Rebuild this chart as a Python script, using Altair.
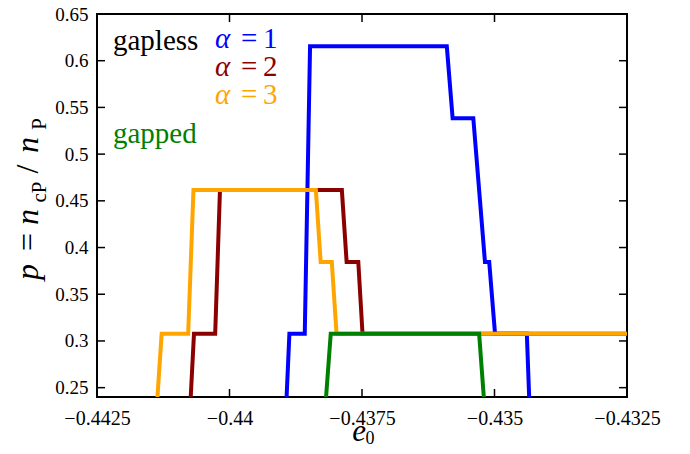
import altair as alt
import pandas as pd

# ---- data ----
e_a1 = [-0.43893, -0.43887, -0.43858, -0.43848, -0.43590, -0.43579, -0.43540,
        -0.43518, -0.43510, -0.43499, -0.43439, -0.43434]
p_a1 = [0.2308, 0.3077, 0.3077, 0.6154, 0.6154, 0.5385, 0.5385,
        0.3846, 0.3846, 0.3077, 0.3077, 0.2308]
e_a2 = [-0.44074, -0.44067, -0.44027, -0.44018, -0.43788, -0.43779, -0.43757,
        -0.43749, -0.4325]
p_a2 = [0.2308, 0.3077, 0.3077, 0.4615, 0.4615, 0.3846, 0.3846, 0.3077, 0.3077]
e_a3 = [-0.44137, -0.44128, -0.44078, -0.44068, -0.43837, -0.43828, -0.43807,
        -0.43798, -0.4325]
p_a3 = [0.2308, 0.3077, 0.3077, 0.4615, 0.4615, 0.3846, 0.3846, 0.3077, 0.3077]
e_gap = [-0.43819, -0.43809, -0.43529, -0.43519]
p_gap = [0.2308, 0.3077, 0.3077, 0.2308]

x_ticks = [-0.4425, -0.44, -0.4375, -0.435, -0.4325]
y_ticks = [0.25, 0.3, 0.35, 0.4, 0.45, 0.5, 0.55, 0.6, 0.65]

colors = {"a1": "#0000ff", "a2": "#8b0000", "a3": "#ffa500", "gap": "#008000"}

W, H = 530, 383
SERIF = "Liberation Serif"

xscale = alt.Scale(domain=[-0.4425, -0.4325], nice=False, zero=False)
yscale = alt.Scale(domain=[0.24, 0.65], nice=False, zero=False)

xaxis = alt.Axis(values=x_ticks, ticks=False, domain=False, grid=False,
                 labelExpr="format(datum.value, '.4~f')",
                 labelFont=SERIF, labelFontSize=20, labelColor="black",
                 labelPadding=11, title=None, labelFlush=False)
yaxis = alt.Axis(values=y_ticks, ticks=False, domain=False, grid=False,
                 labelExpr="format(datum.value, '.2~f')",
                 labelFont=SERIF, labelFontSize=19, labelColor="black",
                 labelPadding=9, title=None, labelFlush=False)


def series(e, p, color):
    df = pd.DataFrame({"e0": e, "p": p})
    return alt.Chart(df).mark_line(
        color=color, strokeWidth=4, clip=True, strokeJoin="miter", strokeCap="butt"
    ).encode(
        x=alt.X("e0:Q", scale=xscale, axis=xaxis),
        y=alt.Y("p:Q", scale=yscale, axis=yaxis),
    )


layers = [
    series(e_a1, p_a1, colors["a1"]),
    series(e_a2, p_a2, colors["a2"]),
    series(e_a3, p_a3, colors["a3"]),
    series(e_gap, p_gap, colors["gap"]),
]

# inward ticks on all four sides
xt = pd.DataFrame({"v": x_ticks})
yt = pd.DataFrame({"v": y_ticks})
TL = 8
layers.append(alt.Chart(xt).mark_rule(color="black", strokeWidth=1.5).encode(
    x=alt.X("v:Q", scale=xscale, axis=xaxis), y=alt.value(H), y2=alt.value(H - TL)))
layers.append(alt.Chart(xt).mark_rule(color="black", strokeWidth=1.5).encode(
    x=alt.X("v:Q", scale=xscale, axis=xaxis), y=alt.value(0), y2=alt.value(TL)))
layers.append(alt.Chart(yt).mark_rule(color="black", strokeWidth=1.5).encode(
    y=alt.Y("v:Q", scale=yscale, axis=yaxis), x=alt.value(0), x2=alt.value(TL)))
layers.append(alt.Chart(yt).mark_rule(color="black", strokeWidth=1.5).encode(
    y=alt.Y("v:Q", scale=yscale, axis=yaxis), x=alt.value(W), x2=alt.value(W - TL)))


def label(text, x, y, size, color="black", style="normal", align="left",
          baseline="alphabetic", angle=0):
    return alt.Chart(pd.DataFrame({"t": [text]})).mark_text(
        font=SERIF, fontSize=size, fontStyle=style, color=color, align=align,
        baseline=baseline, angle=angle
    ).encode(text="t:N", x=alt.value(x), y=alt.value(y))


# in-plot annotations
LS = 29
layers += [
    label("gapless", 16, 36, LS),
    label("α", 118, 34, LS, colors["a1"], "italic"),
    label("=", 144, 34, LS, colors["a1"]),
    label("1", 166, 34, LS, colors["a1"]),
    label("α", 118, 62, LS, colors["a2"], "italic"),
    label("=", 144, 62, LS, colors["a2"]),
    label("2", 166, 62, LS, colors["a2"]),
    label("α", 118, 90, LS, colors["a3"], "italic"),
    label("=", 144, 90, LS, colors["a3"]),
    label("3", 166, 90, LS, colors["a3"]),
    label("gapped", 16, 129, LS, colors["gap"]),
]

# x title: e_0
layers += [
    label("e", 262, 427, 31, style="italic", align="center"),
    label("0", 273, 430, 18, align="center"),
]

# y title: p = n_cP / n_P  (rotated)
MB = -59
SB = -51
layers += [
    label("p", MB, 258, 32, style="italic", align="center", angle=270),
    label("=", MB, 228, 32, align="center", angle=270),
    label("n", MB, 203, 32, style="italic", align="center", angle=270),
    label("cP", SB, 178, 21, align="center", angle=270),
    label("/", MB, 155, 32, align="center", angle=270),
    label("n", MB, 131, 32, style="italic", align="center", angle=270),
    label("P", SB, 110, 21, align="center", angle=270),
]

chart = alt.layer(*layers).properties(
    width=W, height=H,
    autosize=alt.AutoSizeParams(type="none"),
    padding={"left": 89, "top": 6, "right": 55, "bottom": 49},
    background="white",
).configure_view(stroke="black", strokeWidth=2)

chart.save("out.html", embed_options={"renderer": "svg", "actions": False})
